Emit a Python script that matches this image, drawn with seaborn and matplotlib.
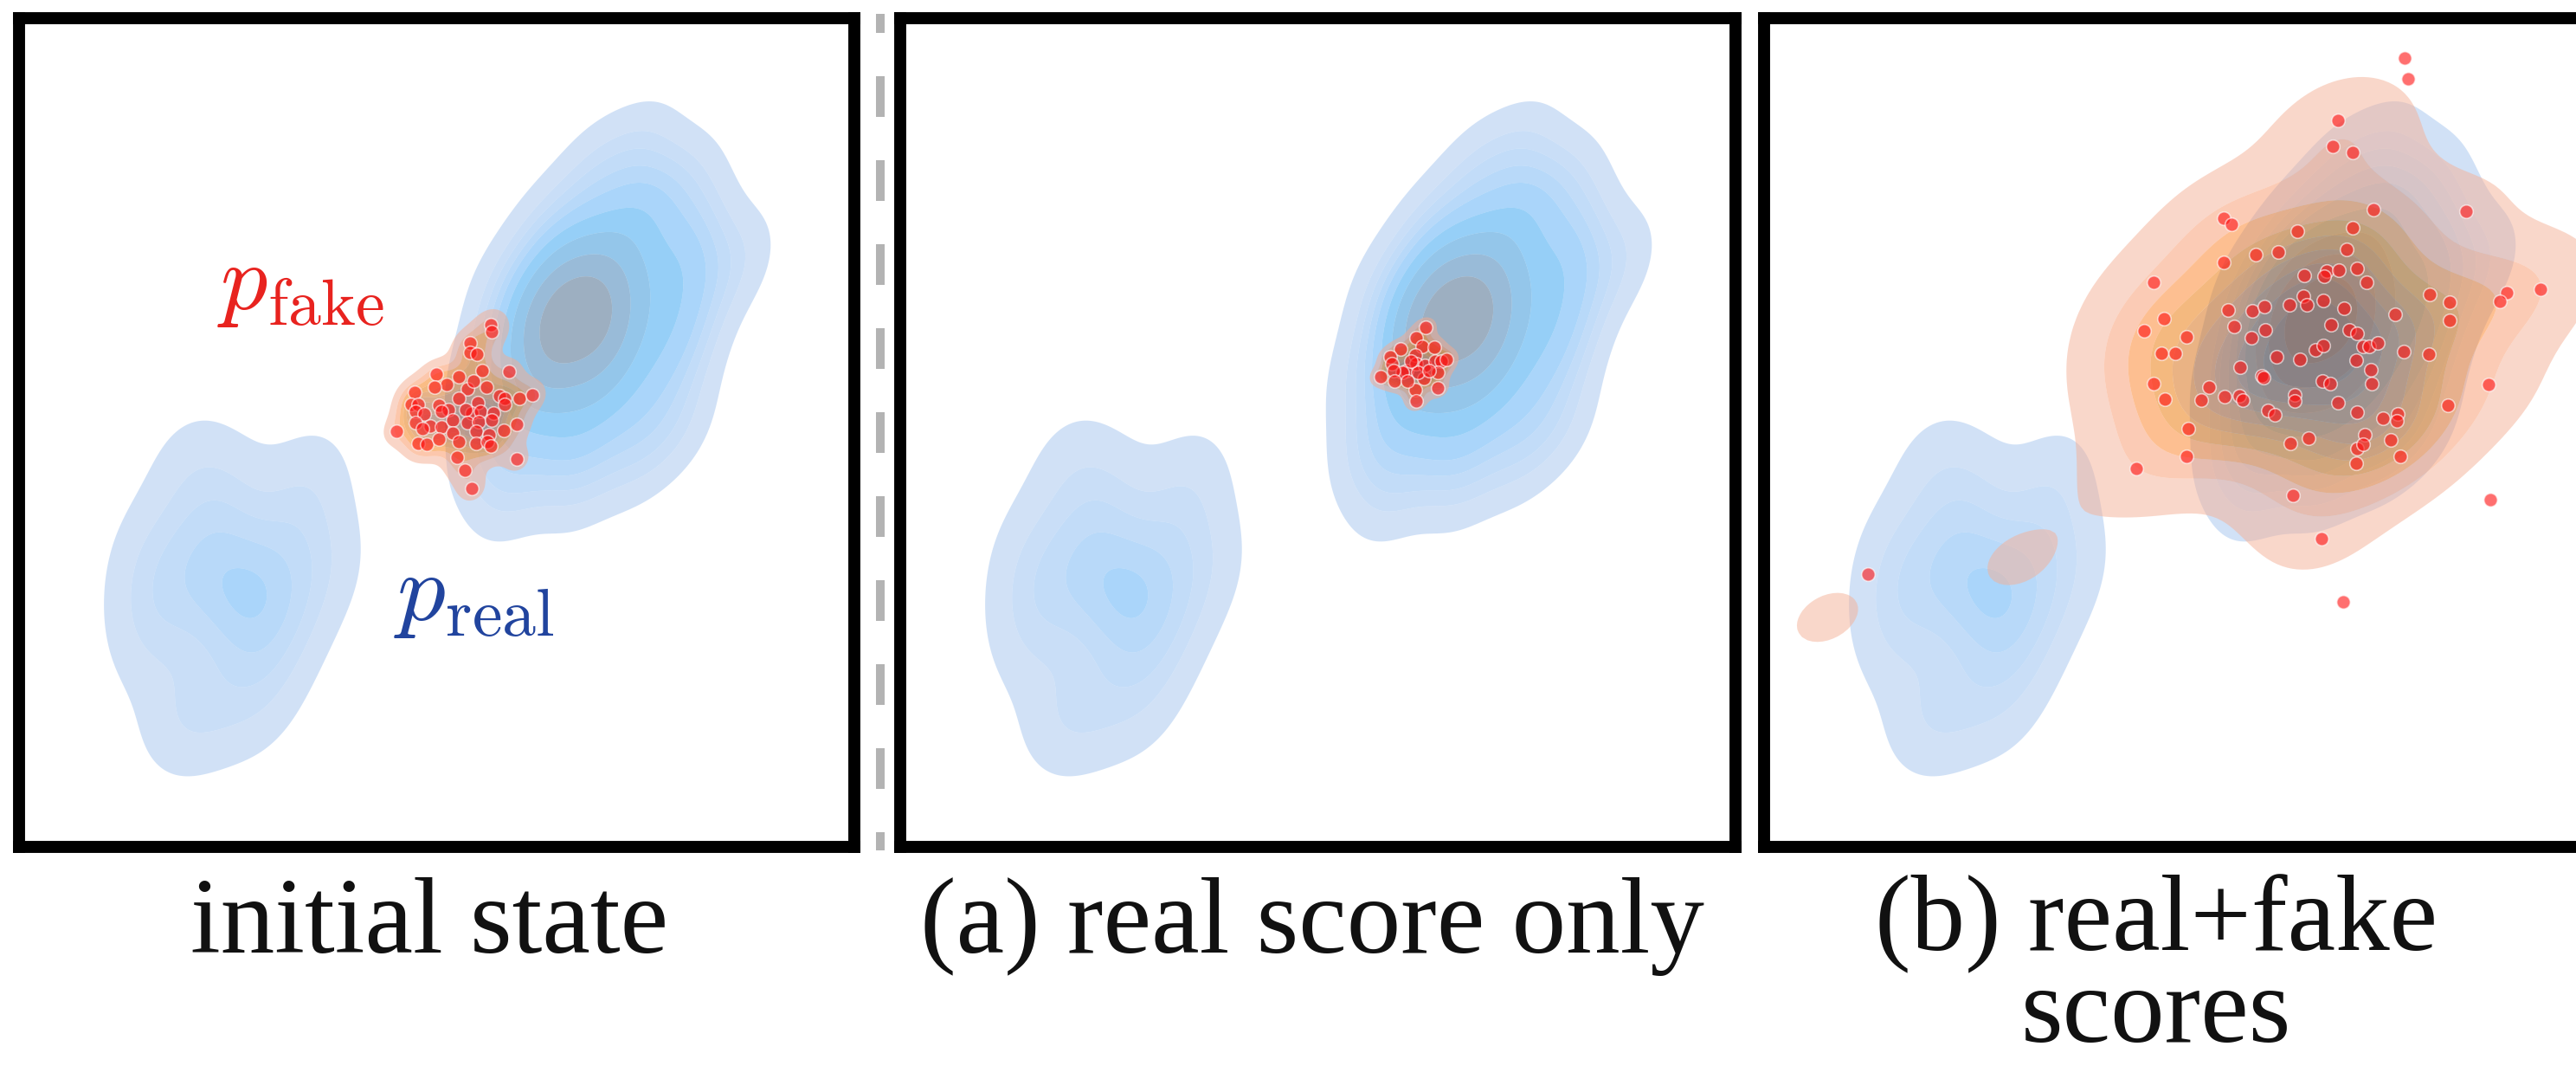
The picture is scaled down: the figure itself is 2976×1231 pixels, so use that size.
import matplotlib
matplotlib.use("Agg")
import matplotlib.pyplot as plt
from matplotlib.lines import Line2D
import pandas as pd
import seaborn as sns

# ---------------------------------------------------------------------------
# Samples (panel units: x right, y up, each panel spans 96.5 x 95.7)
# ---------------------------------------------------------------------------
# real distribution, lower-left mode
real_lo_x = [21.7, 15.5, 29.5, 26.2, 20.1, 25.0, 26.4, 28.6, 15.3, 23.1,
             21.6, 35.5, 31.4, 24.1, 19.7, 33.8, 18.3, 14.8, 27.1, 32.0]
real_lo_y = [15.7, 23.5, 22.0, 24.9, 29.6, 28.3, 30.0, 30.5, 34.9, 32.9,
             35.4, 32.9, 37.0, 41.0, 44.1, 42.6, 14.5, 28.9, 16.4, 27.5]

# real distribution, upper-right mode
real_hi_x = [57.0, 65.0, 54.4, 63.2, 71.4, 59.5, 66.5, 53.7, 70.0, 60.3,
             76.0, 63.5, 59.8, 66.7, 62.3, 73.3, 57.6, 65.5, 61.1, 69.6,
             64.3, 59.6, 67.5, 62.8, 65.9, 56.2, 76.9, 64.4, 69.1, 61.9,
             67.6, 66.1, 61.0, 74.5, 64.5, 68.6, 62.1, 78.1, 66.2, 70.3,
             60.9, 67.5, 75.4, 65.4, 72.3, 83.0, 70.2, 78.0, 66.5, 76.6,
             71.7, 59.6, 75.4, 69.0, 64.8, 62.2, 69.8, 58.7, 77.6, 61.7,
             72.8, 55.2]
real_hi_y = [40.9, 42.2, 48.3, 46.0, 45.1, 50.6, 49.1, 55.0, 49.9, 53.7,
             48.8, 53.6, 57.0, 53.5, 56.2, 53.0, 59.9, 56.0, 58.7, 55.6,
             58.6, 60.4, 58.5, 60.3, 60.2, 64.7, 57.0, 61.8, 60.0, 63.8,
             61.7, 63.3, 66.1, 62.2, 65.0, 64.5, 67.0, 63.0, 66.5, 66.0,
             71.5, 69.1, 67.2, 72.0, 70.5, 67.6, 73.4, 71.6, 78.0, 76.4,
             80.4, 62.4, 58.6, 56.9, 62.7, 61.6, 61.9, 54.1, 67.5, 47.7,
             74.6, 44.7]

# generated samples, initial state
fake_init_x = [54.5, 54.6, 52.1, 52.1, 52.9, 56.6, 53.5, 48.2, 50.8, 49.4,
               51.8, 52.5, 54.0, 45.7, 48.0, 55.5, 56.1, 57.8, 59.3, 56.1,
               45.3, 46.1, 45.8, 48.5, 50.8, 53.0, 52.3, 53.3, 54.8, 46.8,
               49.6, 48.8, 51.6, 45.8, 47.5, 48.8, 50.1, 51.8, 53.1, 54.6,
               56.0, 57.5, 43.6, 46.6, 50.1, 52.8, 54.3, 46.1, 47.1, 50.8,
               52.8, 54.1, 54.5, 48.5, 50.6, 57.5, 51.5, 52.3]
fake_init_y = [60.3, 59.5, 58.2, 57.1, 56.9, 54.9, 55.0, 54.6, 54.3, 53.4,
               52.9, 53.8, 53.1, 52.5, 53.1, 52.1, 51.8, 51.8, 52.2, 51.1,
               51.1, 51.1, 50.3, 51.0, 51.8, 51.3, 50.1, 50.3, 50.1, 50.0,
               50.5, 50.3, 50.5, 49.0, 48.6, 48.5, 49.3, 49.0, 49.1, 49.3,
               48.1, 48.8, 48.0, 48.3, 47.8, 48.0, 47.6, 46.6, 46.5, 46.8,
               46.6, 46.8, 46.3, 47.1, 45.0, 44.8, 43.5, 41.4]

# generated samples, (a) real score only
fake_a_x = [60.7, 59.6, 60.3, 57.8, 61.7, 59.5, 56.6, 56.8, 58.5, 58.0,
            59.6, 60.6, 61.8, 62.5, 63.1, 57.0, 55.5, 57.1, 60.5, 59.8,
            62.1, 59.5, 62.1, 59.6, 58.6, 59.0, 61.1]
fake_a_y = [60.0, 58.8, 57.8, 57.5, 57.7, 56.8, 56.6, 55.8, 55.0, 54.8,
            55.8, 55.6, 56.1, 56.1, 56.3, 55.0, 54.3, 53.8, 54.1, 54.8,
            54.8, 52.8, 53.0, 51.5, 53.8, 56.1, 55.0]

# generated samples, (b) real+fake scores: main cloud
fake_b_x = [65.7, 68.0, 70.4, 81.1, 53.1, 54.0, 61.6, 68.0, 67.3, 56.8,
            59.4, 53.1, 45.0, 62.4, 65.0, 64.7, 66.4, 68.5, 69.6, 76.9,
            79.2, 79.2, 72.9, 53.6, 56.4, 57.8, 60.7, 62.3, 62.7, 64.6,
            67.0, 46.2, 43.9, 48.8, 54.3, 57.9, 56.3, 65.5, 67.6, 68.5,
            69.2, 69.9, 70.9, 63.7, 64.6, 73.9, 76.8, 45.9, 47.5, 59.2,
            61.9, 68.4, 70.1, 55.0, 57.5, 57.7, 64.5, 65.4, 70.2, 45.0,
            51.4, 50.5, 53.2, 54.9, 55.3, 46.3, 61.3, 61.3, 66.3, 68.5,
            71.5, 73.2, 73.1, 79.0, 58.2, 59.0, 49.0, 69.4, 72.4, 68.5,
            69.2, 62.9, 60.8, 48.8, 73.5, 68.4, 43.0, 61.1, 64.4, 83.7,
            66.3, 89.7, 85.8, 85.0]
fake_b_y = [80.9, 80.2, 73.6, 73.4, 72.6, 71.9, 71.1, 71.5, 69.0, 68.4,
            68.7, 67.5, 65.2, 66.0, 66.5, 65.9, 66.6, 66.8, 65.2, 63.8,
            62.9, 60.8, 61.5, 62.0, 61.9, 62.4, 62.6, 63.6, 62.6, 63.1,
            62.2, 61.0, 59.6, 58.9, 60.1, 59.7, 58.8, 60.3, 59.7, 59.3,
            57.8, 57.8, 58.2, 57.4, 57.9, 57.2, 56.9, 57.0, 57.0, 56.6,
            56.3, 56.2, 55.1, 55.4, 54.4, 54.2, 53.8, 53.5, 53.5, 53.5,
            53.1, 51.6, 52.0, 52.1, 51.6, 51.7, 52.2, 51.5, 51.3, 50.2,
            49.5, 50.0, 49.2, 51.0, 50.4, 49.9, 48.3, 47.6, 47.0, 46.0,
            46.5, 47.2, 46.6, 45.1, 45.1, 44.3, 43.7, 40.6, 35.6, 53.4,
            83.9, 64.4, 64.0, 63.0]
# shown samples lying outside the estimated density
fake_b_outer_x = [83.9, 74.0, 74.4, 66.9, 12.0]
fake_b_outer_y = [40.1, 91.1, 88.7, 28.3, 31.5]
# density-only samples near the lower-left mode, and their weight
fake_b_tail_x = [29.4, 7.3]
fake_b_tail_y = [33.1, 26.5]
fake_b_tail_w = [1.12, 1.12]

captions = ["initial state", "(a) real score only", "(b) real+fake\nscores"]
caption_x = [496, 1516, 2491]          # pixel centres
caption_baseline = [1100, 1100, 1203]  # baseline of the last line

REAL_COLOR = "#1f77b4"
FAKE_COLOR = "#ff7f0e"
DOT_COLOR = "#ff1010"
SERIF = ["Liberation Serif", "DejaVu Serif"]

W, H = 2976, 1231
XMAX, YMAX = 96.5, 95.7
panel_left = [22, 1040, 2038]
panel_top, panel_bottom, panel_w = 21, 978, 965

sns.set_style("white")
plt.rcParams["mathtext.fontset"] = "cm"
plt.rcParams["font.family"] = SERIF

fig = plt.figure(figsize=(W / 100, H / 100), dpi=100)
fig.patch.set_facecolor("white")

axes = []
for left in panel_left:
    ax = fig.add_axes([left / W, (H - panel_bottom) / H,
                       panel_w / W, (panel_bottom - panel_top) / H])
    axes.append(ax)


def draw_real(ax):
    df = pd.DataFrame({
        "x": real_lo_x + real_hi_x,
        "y": real_lo_y + real_hi_y,
        "mode": ["lo"] * len(real_lo_x) + ["hi"] * len(real_hi_x),
    })
    sns.kdeplot(data=df, x="x", y="y", hue="mode",
                palette={"lo": REAL_COLOR, "hi": REAL_COLOR},
                fill=True, alpha=0.5, levels=10, thresh=0.05,
                common_norm=True, legend=False, antialiased=True, ax=ax)


def draw_fake(ax, kx, ky, sx, sy, bw=0.8, weights=None):
    sns.kdeplot(x=kx, y=ky, weights=weights, fill=True, color=FAKE_COLOR,
                alpha=0.5, levels=10, thresh=0.05, bw_adjust=bw,
                antialiased=True, ax=ax)
    sns.scatterplot(x=sx, y=sy, color=DOT_COLOR, s=125, alpha=0.6,
                    edgecolor="white", linewidth=1.2, ax=ax, zorder=5)


# initial state
draw_real(axes[0])
draw_fake(axes[0], fake_init_x, fake_init_y, fake_init_x, fake_init_y, bw=0.75)
axes[0].text(32.5, 62.1, r"$p_{\mathrm{fake}}$", color="#e8231f",
             fontsize=78, ha="center", va="baseline")
axes[0].text(52.6, 26.2, r"$p_{\mathrm{real}}$", color="#21449e",
             fontsize=80, ha="center", va="baseline")

# (a) real score only
draw_real(axes[1])
draw_fake(axes[1], fake_a_x, fake_a_y, fake_a_x, fake_a_y, bw=0.8)

# (b) real+fake scores
draw_real(axes[2])
draw_fake(axes[2], fake_b_x + fake_b_tail_x, fake_b_y + fake_b_tail_y,
          fake_b_x + fake_b_outer_x, fake_b_y + fake_b_outer_y, bw=1.0,
          weights=[1.0] * len(fake_b_x) + fake_b_tail_w)

for ax in axes:
    ax.set_xlim(0, XMAX)
    ax.set_ylim(0, YMAX)
    ax.set_xticks([])
    ax.set_yticks([])
    ax.set_xlabel("")
    ax.set_ylabel("")
    ax.set_facecolor("white")
    for sp in ax.spines.values():
        sp.set_visible(True)
        sp.set_color("black")
        sp.set_linewidth(10)
        sp.set_zorder(10)

# dashed separator between the first two panels
sep_x = 1017 / W
fig.add_artist(Line2D([sep_x, sep_x], [1 - 16 / H, 1 - 982 / H],
                      transform=fig.transFigure, color="#b3b3b3",
                      linewidth=7.2, linestyle=(2.5, (4.7, 5.0)),
                      solid_capstyle="butt", dash_capstyle="butt"))

for text, cx, base in zip(captions, caption_x, caption_baseline):
    fig.text(cx / W, 1 - base / H, text, fontsize=90, family=SERIF,
             ha="center", va="baseline", multialignment="center",
             linespacing=0.9, color="#111111")

fig.savefig("out.png", dpi=100, facecolor="white")
